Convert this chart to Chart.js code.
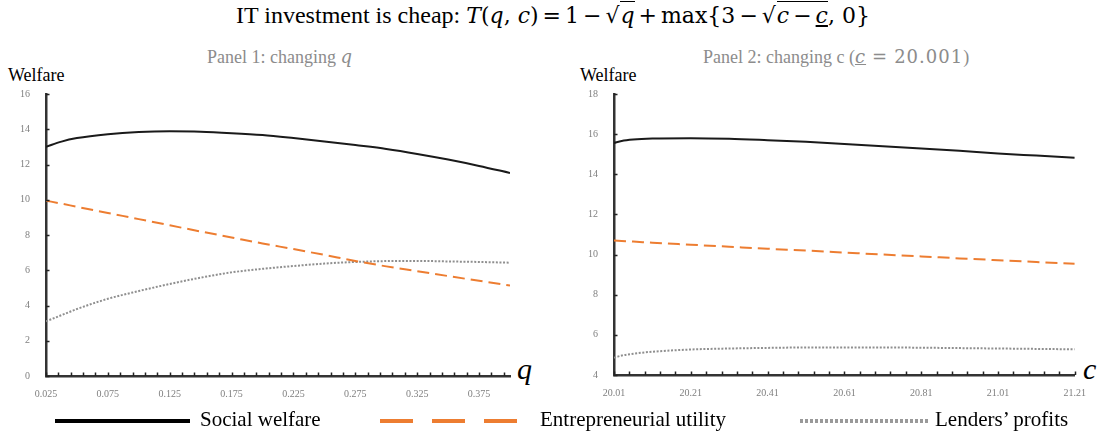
<!DOCTYPE html>
<html>
<head>
<meta charset="utf-8">
<script src="https://cdn.jsdelivr.net/npm/chart.js@4.4.1/dist/chart.umd.min.js"></script>
<style>
  body { margin: 0; width: 1102px; height: 437px; background: #fff; position: relative; overflow: hidden;
         font-family: "Liberation Serif", "DejaVu Serif", serif; }
  .abs { position: absolute; white-space: nowrap; }
  #title { top: 0px; left: 0; width: 1106px; text-align: center; font-size: 24px; line-height: 30px; color: #000; }
  .m { font-family: "DejaVu Serif", serif; font-size: 22px; }
  .op { margin: 0 4px; }
  .rad { border-top: 1.5px solid #000; padding-top: 1px; margin-left: 1px; }
  .ptitle { top: 45px; font-size: 18px; line-height: 24px; color: #8c8c8c; }
  .ptitle .m { font-size: 18px; letter-spacing: 1px; }
  .ptitle .op { margin: 0 6px; }
  .ylab { top: 63px; font-size: 18px; line-height: 24px; color: #000; }
  .xvar { top: 352px; font-size: 30px; line-height: 34px; font-style: italic; color: #000; }
  .leg { top: 406px; font-size: 21px; line-height: 26px; color: #000; }
  canvas { position: absolute; }
</style>
</head>
<body>
<div id="title" class="abs">IT investment is cheap: <span class="m"><i>T</i>(<i>q</i>, <i>c</i>)<span class="op">=</span>1<span class="op">−</span>√<span class="rad"><i>q</i></span><span class="op">+</span>max{3<span class="op">−</span>√<span class="rad"><i>c</i><span class="op">−</span><u><i>c</i></u></span>, 0}</span></div>
<div class="abs ptitle" style="left:207px">Panel 1: changing <span class="m"><i>q</i></span></div>
<div class="abs ptitle" style="left:703px">Panel 2: changing c (<span class="m"><u><i>c</i></u><span class="op">=</span>20.001</span>)</div>
<div class="abs ylab" style="left:8px">Welfare</div>
<div class="abs ylab" style="left:580px">Welfare</div>
<div class="abs xvar" style="left:517px">q</div>
<div class="abs xvar" style="left:1083px">c</div>

<canvas id="chart1" width="520" height="330" style="left:0;top:80px"></canvas>
<canvas id="chart2" width="530" height="330" style="left:560px;top:80px"></canvas>

<svg class="abs" style="left:0;top:410px" width="1102" height="24">
  <line x1="55" y1="11" x2="190" y2="11" stroke="#000" stroke-width="4"/>
  <line x1="380" y1="11" x2="530" y2="11" stroke="#ED7D31" stroke-width="4" stroke-dasharray="33,19"/>
  <line x1="800" y1="11" x2="930" y2="11" stroke="#999" stroke-width="4" stroke-dasharray="3,2"/>
</svg>
<div class="abs leg" style="left:200px">Social welfare</div>
<div class="abs leg" style="left:540px">Entrepreneurial utility</div>
<div class="abs leg" style="left:935px">Lenders’ profits</div>

<script>
// panel 1: changing q
const qValues = [0.025, 0.0375, 0.05, 0.075, 0.1, 0.125, 0.15, 0.175, 0.2, 0.225, 0.25, 0.275, 0.3, 0.325, 0.35, 0.375, 0.4];
const qSocialWelfare = [13.0, 13.3, 13.5, 13.72, 13.84, 13.88, 13.86, 13.78, 13.67, 13.5, 13.31, 13.1, 12.88, 12.6, 12.28, 11.92, 11.52];
const qEntrepreneurial = [9.95, 9.78, 9.6, 9.25, 8.9, 8.55, 8.2, 7.86, 7.52, 7.2, 6.87, 6.53, 6.22, 5.95, 5.67, 5.4, 5.13];
const qLenders = [3.1, 3.45, 3.8, 4.38, 4.82, 5.22, 5.58, 5.88, 6.08, 6.24, 6.38, 6.47, 6.52, 6.53, 6.5, 6.47, 6.43];
const qTickLabels = ["0.025", "0.075", "0.125", "0.175", "0.225", "0.275", "0.325", "0.375"];

// panel 2: changing c
const cValues = [20.01, 20.03, 20.06, 20.11, 20.21, 20.31, 20.41, 20.51, 20.61, 20.71, 20.81, 20.91, 21.01, 21.11, 21.21];
const cSocialWelfare = [15.56, 15.66, 15.73, 15.78, 15.8, 15.77, 15.7, 15.62, 15.51, 15.4, 15.29, 15.17, 15.04, 14.93, 14.82];
const cEntrepreneurial = [10.7, 10.68, 10.65, 10.59, 10.49, 10.39, 10.29, 10.2, 10.1, 10.0, 9.91, 9.81, 9.72, 9.63, 9.54];
const cLenders = [4.86, 4.97, 5.06, 5.16, 5.27, 5.32, 5.35, 5.37, 5.37, 5.37, 5.36, 5.34, 5.32, 5.3, 5.28];
const cTickLabels = ["20.01", "20.21", "20.41", "20.61", "20.81", "21.01", "21.21"];

const tickFont = { family: "Liberation Serif", size: 10 };

// draws the short inward tick marks on both axes
const innerTicks = {
  id: "innerTicks",
  afterDraw(chart) {
    const ctx = chart.ctx;
    const xs = chart.scales.x, ys = chart.scales.y;
    ctx.save();
    ctx.strokeStyle = "#222";
    ctx.lineWidth = 1.5;
    ctx.beginPath();
    xs.ticks.forEach((t) => {
      const px = Math.round(xs.getPixelForValue(t.value)) + 0.5;
      ctx.moveTo(px, xs.top);
      ctx.lineTo(px, xs.top - 3.5);
    });
    ys.ticks.forEach((t) => {
      const py = Math.round(ys.getPixelForValue(t.value)) + 0.5;
      ctx.moveTo(ys.right, py);
      ctx.lineTo(ys.right + 3.5, py);
    });
    ctx.stroke();
    ctx.restore();
  },
};

function toPoints(xs, ys) {
  return xs.map((x, i) => ({ x: x, y: ys[i] }));
}

function makeChart(id, xVals, sw, eu, lp, opts) {
  return new Chart(document.getElementById(id), {
    type: "line",
    data: {
      datasets: [
        { label: "Social welfare", data: toPoints(xVals, sw), borderColor: "#1a1a1a", borderWidth: 2 },
        { label: "Entrepreneurial utility", data: toPoints(xVals, eu), borderColor: "#ED7D31", borderWidth: 2, borderDash: [12, 6] },
        { label: "Lenders’ profits", data: toPoints(xVals, lp), borderColor: "#8f8f8f", borderWidth: 2, borderDash: [2, 1.6] },
      ],
    },
    options: {
      responsive: false,
      devicePixelRatio: 1,
      animation: false,
      layout: { padding: opts.padding },
      elements: {
        point: { radius: 0 },
        line: { cubicInterpolationMode: "monotone", fill: false },
      },
      plugins: { legend: { display: false }, tooltip: { enabled: false } },
      scales: {
        x: {
          type: "linear",
          min: opts.xMin,
          max: opts.xMax,
          grid: { display: false },
          border: { display: true, color: "#333", width: 2.5 },
          afterBuildTicks(scale) {
            const ticks = [];
            for (let v = opts.xMin; v <= opts.xMax + 1e-9; v += opts.xStep) {
              ticks.push({ value: +v.toFixed(4) });
            }
            scale.ticks = ticks;
          },
          afterFit(scale) { scale.height = opts.xHeight; },
          ticks: {
            autoSkip: false,
            maxRotation: 0,
            padding: 4,
            color: "#7f7f7f",
            font: tickFont,
            callback(value) {
              const lbl = opts.xLabels.find((l) => Math.abs(parseFloat(l) - value) < 1e-6);
              return lbl || "";
            },
          },
        },
        y: {
          min: opts.yMin,
          max: opts.yMax,
          grid: { display: false },
          border: { display: true, color: "#333", width: 2.5 },
          afterFit(scale) { scale.width = opts.yWidth; },
          ticks: { stepSize: 2, color: "#7f7f7f", font: tickFont, padding: 8 },
        },
      },
    },
    plugins: [innerTicks],
  });
}

makeChart("chart1", qValues, qSocialWelfare, qEntrepreneurial, qLenders, {
  xMin: 0.025, xMax: 0.4, xStep: 0.01, xLabels: qTickLabels,
  yMin: 0, yMax: 16, yWidth: 46, xHeight: 34,
  padding: { top: 11, right: 10, left: 0, bottom: 0 },
});

makeChart("chart2", cValues, cSocialWelfare, cEntrepreneurial, cLenders, {
  xMin: 20.01, xMax: 21.21, xStep: 0.04, xLabels: cTickLabels,
  yMin: 4, yMax: 18, yWidth: 54, xHeight: 35,
  padding: { top: 13, right: 12, left: 0, bottom: 0 },
});
</script>
</body>
</html>
